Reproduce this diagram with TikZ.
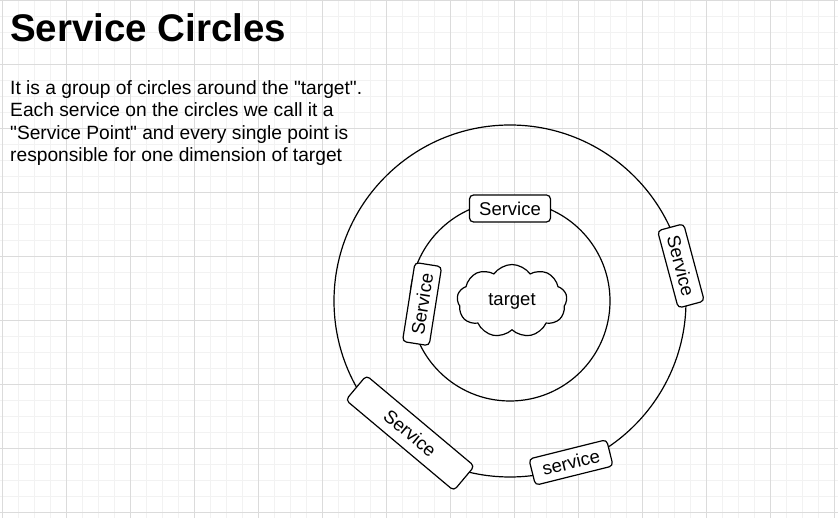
\documentclass[tikz,border=0pt]{standalone}
\usepackage{fontspec}
\setmainfont{Liberation Sans}[Ligatures=TeXOff]
\usetikzlibrary{calc,shapes.symbols}

\begin{document}
\begin{tikzpicture}[
  x=1pt, y=1pt,
  ring/.style={draw,circle,line width=1.2pt,inner sep=0pt},
  svc/.style={draw,fill=white,rounded corners=4pt,line width=1.2pt,inner sep=0pt,
    minimum width=80pt,minimum height=27pt,font=\fontsize{18.5}{22}\selectfont},
  minorgrid/.style={draw=black!5,line width=0.7pt},
  majorgrid/.style={draw=black!14,line width=0.8pt}
]
\useasboundingbox (0,0) rectangle (838,-518);
\clip (0,0) rectangle (838,-518);
\draw[minorgrid, step=16pt, shift={(2.5,0)}] (-16,16) grid (848,-528);
\draw[majorgrid, step=64pt, shift={(2.5,0)}] (-64,64) grid (896,-576);

\node[anchor=base west, inner sep=0pt, font=\fontsize{38.5}{44}\selectfont\bfseries] (title) at (10,-42) {Service Circles};
\node[anchor=north west, inner sep=0pt, align=left, font=\fontsize{19.2}{22.2}\selectfont] (desc) at (10,-80.5)
  {It is a group of circles around the "target".\\Each service on the circles we call it a\\"Service Point" and every single point is\\responsible for one dimension of target};

\coordinate (ctr) at (510,-301);
\node[ring, minimum size=352pt] (outer) at (ctr) {};
\node[ring, minimum size=200pt] (inner) at (ctr) {};
\node[cloud, draw, line width=1.2pt, cloud puffs=9, cloud puff arc=110, aspect=1.5, inner sep=0pt,
  minimum width=110pt, minimum height=73pt, font=\fontsize{18.5}{22}\selectfont] (target) at (512,-301) {target};

\node[svc, minimum width=81pt] (svctop) at ($(ctr)+(90:92.5)$) {Service};
\node[svc, rotate=81] (svcleft) at ($(ctr)+(182:88)$) {Service};
\node[svc, rotate=-75] (svcright) at ($(ctr)+(11.6:174.5)$) {Service};
\node[svc, rotate=-40, minimum width=141pt, minimum height=32pt] (svclow) at ($(ctr)+(232.9:165.6)$) {Service};
\node[svc, rotate=14] (svcbottom) at ($(ctr)+(290.7:172.6)$) {service};
\end{tikzpicture}
\end{document}
